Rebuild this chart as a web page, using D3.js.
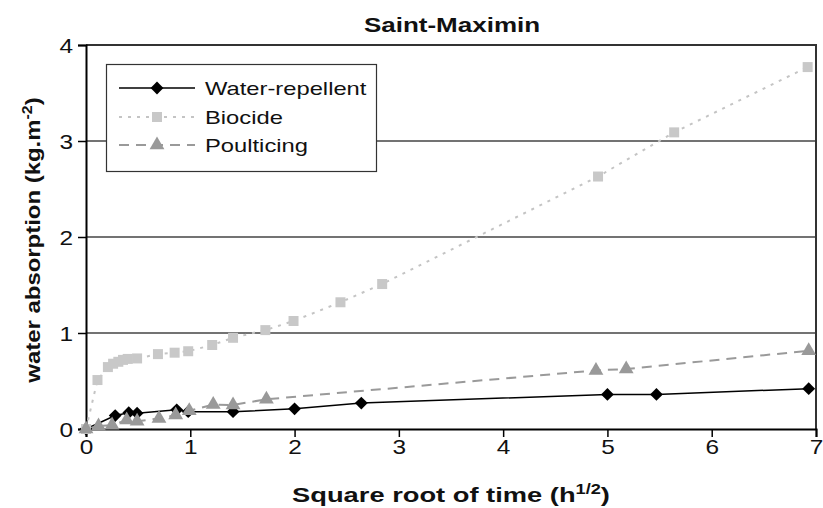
<!DOCTYPE html>
<html>
<head>
<meta charset="utf-8">
<script src="https://cdn.jsdelivr.net/npm/d3@7"></script>
<style>
  html, body { margin: 0; padding: 0; background: #fff; }
  svg { display: block; font-family: "Liberation Sans", Arial, sans-serif; }
</style>
</head>
<body>
<svg id="chart" width="823" height="508"></svg>
<script>
// ---- data ----
const title = "Saint-Maximin";
const xTicks = [0, 1, 2, 3, 4, 5, 6, 7];
const yTicks = [0, 1, 2, 3, 4];
const seriesNames = ["Water-repellent", "Biocide", "Poulticing"];

const waterX = [0, 0.28, 0.41, 0.49, 0.87, 0.98, 1.41, 2.0, 2.64, 5.0, 5.47, 6.93];
const waterY = [0, 0.14, 0.17, 0.165, 0.2, 0.18, 0.18, 0.21, 0.27, 0.36, 0.36, 0.42];

const biocideX = [0, 0.11, 0.21, 0.26, 0.31, 0.355, 0.40, 0.49, 0.69, 0.85, 0.98, 1.21, 1.41, 1.72, 1.99, 2.44, 2.84, 4.91, 5.64, 6.92];
const biocideY = [0, 0.51, 0.645, 0.68, 0.70, 0.72, 0.73, 0.735, 0.78, 0.795, 0.81, 0.875, 0.95, 1.03, 1.125, 1.32, 1.51, 2.63, 3.09, 3.77];

const poultX = [0, 0.12, 0.25, 0.39, 0.49, 0.70, 0.86, 0.99, 1.22, 1.41, 1.73, 4.89, 5.18, 6.93];
const poultY = [0, 0.03, 0.04, 0.094, 0.08, 0.11, 0.145, 0.19, 0.255, 0.25, 0.31, 0.61, 0.625, 0.815];

// ---- layout ----
const svg = d3.select("#chart");
const L = 86, R = 816, T = 45, B = 429;
const x = d3.scaleLinear().domain([0, 7]).range([L, R]);
const y = d3.scaleLinear().domain([0, 4]).range([B, T]);
const SX = 1.22; // horizontal stretch of the reference's lettering

// gridlines
svg.append("g").selectAll("line").data(yTicks.filter(d => d > 0 && d < 4)).join("line")
  .attr("x1", L).attr("x2", R).attr("y1", d => y(d)).attr("y2", d => y(d))
  .attr("stroke", "#444").attr("stroke-width", 1.5);

// frame (top and right)
svg.append("path")
  .attr("d", `M${L},${T}H${R}V${B}`)
  .attr("fill", "none").attr("stroke", "#333").attr("stroke-width", 2);

// axes
const xAxis = svg.append("g").attr("transform", `translate(0,${B})`)
  .call(d3.axisBottom(x).tickValues(xTicks).tickSize(8).tickPadding(6).tickFormat(d3.format("d")));
const yAxis = svg.append("g").attr("transform", `translate(${L},0)`)
  .call(d3.axisLeft(y).tickValues(yTicks).tickSize(8).tickPadding(6).tickFormat(d3.format("d")));
[xAxis, yAxis].forEach(a => {
  a.select(".domain").attr("stroke", "#000").attr("stroke-width", 2);
  a.selectAll(".tick line").attr("stroke", "#000").attr("stroke-width", 1.5);
  a.selectAll(".tick text").attr("font-size", 20).attr("fill", "#111")
    .attr("font-family", "'Liberation Sans', Arial, sans-serif");
});
xAxis.selectAll(".tick text").attr("y", 0).attr("dy", 0)
  .attr("transform", `translate(0,25) scale(${SX},1)`);
yAxis.selectAll(".tick text").attr("x", 0).attr("dy", "0.35em")
  .attr("transform", `translate(-13,0) scale(${SX},1)`);

// stretched text helper
function sText(cx, cy, rot, sx, size) {
  return svg.append("text")
    .attr("transform", `translate(${cx},${cy}) rotate(${rot}) scale(${sx},1)`)
    .attr("text-anchor", "middle").attr("font-size", size).attr("font-weight", "bold").attr("fill", "#111");
}

// title
sText(452, 32, 0, 1.3, 20).text(title);

// axis titles
const xt = sText(451, 502, 0, 1.3, 21);
xt.append("tspan").text("Square root of time (h");
xt.append("tspan").attr("font-size", 14).attr("dy", -8).text("1/2");
xt.append("tspan").attr("dy", 8).text(")");

const yt = sText(40, 240, -90, 1.14, 21);
yt.append("tspan").text("water absorption (kg.m");
yt.append("tspan").attr("font-size", 14).attr("dy", -8).text("-2");
yt.append("tspan").attr("dy", 8).text(")");

// series
const zip = (xs, ys) => xs.map((v, i) => [v, ys[i]]);
const line = d3.line().x(d => x(d[0])).y(d => y(d[1]));

const styles = [
  { data: zip(waterX, waterY), stroke: "#000", width: 1.5, dash: null, marker: d3.symbolSquare, msize: 82, rot: 45, fill: "#000" },
  { data: zip(biocideX, biocideY), stroke: "#c4c4c4", width: 2, dash: "3,6", marker: d3.symbolSquare, msize: 100, rot: 0, fill: "#c8c8c8" },
  { data: zip(poultX, poultY), stroke: "#9a9a9a", width: 2, dash: "10,7", marker: d3.symbolTriangle, msize: 95, rot: 0, fill: "#999" }
];

styles.forEach(s => {
  svg.append("path").datum(s.data).attr("d", line)
    .attr("fill", "none").attr("stroke", s.stroke).attr("stroke-width", s.width)
    .attr("stroke-dasharray", s.dash);
});
styles.forEach(s => {
  svg.append("g").selectAll("path").data(s.data).join("path")
    .attr("transform", d => `translate(${x(d[0])},${y(d[1])}) rotate(${s.rot})`)
    .attr("d", d3.symbol().type(s.marker).size(s.msize))
    .attr("fill", s.fill);
});

// legend
const lg = svg.append("g");
lg.append("rect").attr("x", 106.5).attr("y", 64.5).attr("width", 270).attr("height", 107)
  .attr("fill", "#fff").attr("stroke", "#333").attr("stroke-width", 1.2);
const rowsY = [88, 117, 145];
styles.forEach((s, i) => {
  const yy = rowsY[i];
  lg.append("line").attr("x1", 119).attr("x2", 195).attr("y1", yy).attr("y2", yy)
    .attr("stroke", s.stroke).attr("stroke-width", s.width).attr("stroke-dasharray", s.dash);
  lg.append("path").attr("transform", `translate(157,${yy}) rotate(${s.rot})`)
    .attr("d", d3.symbol().type(s.marker).size(s.msize)).attr("fill", s.fill);
  lg.append("text").attr("transform", `translate(205,${yy + 7}) scale(1.25,1)`)
    .attr("font-size", 19).attr("fill", "#111")
    .text(seriesNames[i]);
});
</script>
</body>
</html>
